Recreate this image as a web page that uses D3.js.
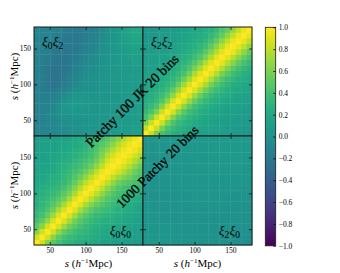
<!DOCTYPE html>
<html>
<head>
<meta charset="utf-8">
<script src="https://cdn.jsdelivr.net/npm/d3@7"></script>
<style>
  body { margin: 0; background: #fff; }
  text { font-family: "Liberation Serif", "DejaVu Serif", serif; fill: #000; }
</style>
</head>
<body>
<svg id="chart" width="340" height="273"></svg>
<script>
(function(d3) {

  // s bin edges (h^-1 Mpc), 20 bins per multipole
  var sEdges = [28, 35.6, 43.2, 50.8, 58.4, 66, 73.6, 81.2, 88.8, 96.4, 104,
                111.6, 119.2, 126.8, 134.4, 142, 149.6, 157.2, 164.8, 172.4, 180];
  var sTicks = [50, 100, 150];
  var cbTicks = [1.0, 0.8, 0.6, 0.4, 0.2, 0.0, -0.2, -0.4, -0.6, -0.8, -1.0];

  // Correlation coefficients in percent.
  // Row r = y bin (smallest s first), column c = x bin.
  var xi0xi0 = [
    [100,85,63,49,40,34,30,27,25,23,21,19,17,15,14,13,12,11,10,9],
    [85,100,86,64,50,41,35,32,29,27,24,21,19,17,15,14,13,12,12,11],
    [63,86,100,87,66,52,44,38,34,30,27,24,21,19,17,15,15,14,13,12],
    [49,64,87,100,88,70,56,47,40,34,30,27,24,21,19,18,17,15,14,13],
    [40,50,66,88,100,89,72,57,47,40,34,30,27,25,24,21,19,17,15,14],
    [34,41,52,70,89,100,89,72,57,47,40,34,32,30,27,24,21,19,17,15],
    [30,35,44,56,72,89,100,90,73,59,49,42,38,35,31,27,24,21,19,17],
    [27,32,38,47,57,72,90,100,90,74,61,53,46,40,35,31,27,24,21,19],
    [25,29,34,40,47,57,73,90,100,91,78,65,55,46,40,35,31,27,24,22],
    [23,27,30,34,40,47,59,74,91,100,92,80,66,55,46,40,35,31,28,26],
    [21,24,27,30,34,40,49,61,78,92,100,92,80,66,55,46,40,37,34,31],
    [19,21,24,27,30,34,42,53,65,80,92,100,92,80,67,56,49,45,41,36],
    [17,19,21,24,27,32,38,46,55,66,80,92,100,93,82,70,62,55,47,41],
    [15,17,19,21,25,30,35,40,46,55,66,80,93,100,94,86,76,65,55,47],
    [14,15,17,19,24,27,31,35,40,46,55,67,82,94,100,95,87,76,65,55],
    [13,14,15,18,21,24,27,31,35,40,46,56,70,86,95,100,95,87,76,65],
    [12,13,15,17,19,21,24,27,31,35,40,49,62,76,87,95,100,95,87,76],
    [11,12,14,15,17,19,21,24,27,31,37,45,55,65,76,87,95,100,95,87],
    [10,12,13,14,15,17,19,21,24,28,34,41,47,55,65,76,87,95,100,95],
    [9,11,12,13,14,15,17,19,22,26,31,36,41,47,55,65,76,87,95,100]
  ];

  var xi2xi2 = [
    [100,82,58,42,33,27,23,20,17,15,14,13,12,11,10,9,8,7,6,6],
    [82,100,83,59,43,34,28,24,21,18,16,14,13,12,11,10,9,8,7,6],
    [58,83,100,84,60,44,35,29,25,21,18,16,14,13,12,11,10,9,8,7],
    [42,59,84,100,85,62,46,37,30,26,22,19,17,15,13,12,11,10,9,8],
    [33,43,60,85,100,86,64,48,38,31,26,22,19,17,15,13,12,11,10,9],
    [27,34,44,62,86,100,87,66,50,39,32,27,23,20,17,15,14,12,11,10],
    [23,28,35,46,64,87,100,88,68,52,40,33,28,24,21,18,16,14,13,12],
    [20,24,29,37,48,66,88,100,88,70,54,42,35,29,25,22,19,17,15,14],
    [17,21,25,30,38,50,68,88,100,89,72,56,44,36,30,26,22,20,18,16],
    [15,18,21,26,31,39,52,70,89,100,90,74,58,46,37,31,26,23,20,18],
    [14,16,18,22,26,32,40,54,72,90,100,90,74,58,46,37,31,26,23,20],
    [13,14,16,19,22,27,33,42,56,74,90,100,91,76,60,48,39,32,27,24],
    [12,13,14,17,19,23,28,35,44,58,74,91,100,91,77,62,50,40,33,28],
    [11,12,13,15,17,20,24,29,36,46,58,76,91,100,92,78,64,51,41,34],
    [10,11,12,13,15,17,21,25,30,37,46,60,77,92,100,92,79,65,53,43],
    [9,10,11,12,13,15,18,22,26,31,37,48,62,78,92,100,93,80,66,53],
    [8,9,10,11,12,14,16,19,22,26,31,39,50,64,79,93,100,93,81,66],
    [7,8,9,10,11,12,14,17,20,23,26,32,40,51,65,80,93,100,93,81],
    [6,7,8,9,10,11,13,15,18,20,23,27,33,41,53,66,81,93,100,93],
    [6,6,7,8,9,10,12,14,16,18,20,24,28,34,43,53,66,81,93,100]
  ];

  var xi0xi2 = [
    [-10,-10,-9,-8,-6,-4,-2,0,1,3,4,5,6,7,8,9,10,10,11,12],
    [-10,-11,-10,-8,-6,-3,-1,0,2,3,4,5,6,7,8,9,9,10,11,11],
    [-11,-11,-10,-8,-5,-2,0,1,2,3,4,5,6,7,8,8,9,10,10,11],
    [-11,-11,-10,-7,-3,0,2,3,3,4,5,5,6,7,7,8,9,9,10,11],
    [-11,-12,-10,-6,-1,3,6,7,6,5,5,5,6,6,7,8,8,9,10,11],
    [-12,-12,-11,-7,-1,5,8,9,8,6,5,5,5,6,7,7,8,9,10,11],
    [-12,-13,-13,-10,-5,2,6,8,8,6,4,4,5,6,6,7,8,9,10,11],
    [-12,-14,-15,-14,-10,-4,1,4,5,4,3,4,5,5,6,7,8,9,10,10],
    [-12,-15,-18,-19,-16,-11,-6,-2,0,1,2,3,4,5,6,7,8,9,9,10],
    [-12,-16,-20,-22,-20,-16,-11,-6,-3,0,1,3,4,5,6,7,8,9,9,10],
    [-12,-16,-21,-24,-23,-19,-14,-9,-5,-2,0,2,4,5,6,7,8,9,9,10],
    [-12,-16,-21,-24,-24,-21,-16,-11,-7,-3,-1,1,3,5,6,7,8,9,10,10],
    [-12,-15,-20,-23,-24,-22,-18,-13,-9,-5,-2,0,3,5,6,8,9,10,10,10],
    [-11,-14,-18,-21,-23,-22,-19,-15,-11,-7,-4,-1,2,4,6,8,9,10,11,11],
    [-11,-13,-17,-20,-22,-22,-20,-17,-13,-9,-6,-2,1,4,6,8,10,11,12,12],
    [-10,-12,-15,-18,-20,-21,-20,-18,-15,-11,-8,-4,0,3,6,9,10,12,13,13],
    [-10,-11,-13,-16,-18,-20,-20,-19,-17,-13,-10,-6,-2,2,6,9,11,13,15,15],
    [-9,-10,-12,-14,-17,-19,-20,-20,-18,-15,-12,-8,-3,1,5,9,12,15,17,17],
    [-8,-9,-10,-12,-15,-17,-18,-19,-18,-16,-14,-10,-5,0,4,8,13,17,19,19],
    [-8,-8,-10,-12,-14,-16,-17,-18,-18,-17,-15,-12,-6,0,4,8,14,18,20,20]
  ];

  var xi2xi0 = [
    [7,6,6,5,5,4,4,3,3,2,2,1,1,0,0,0,-1,-1,-1,-2],
    [6,6,5,5,4,4,3,3,3,2,2,1,1,1,0,0,0,-1,-1,-1],
    [6,5,5,4,4,4,3,3,3,2,2,2,1,1,1,1,0,0,0,-1],
    [5,5,4,4,4,3,3,3,3,2,2,2,2,1,1,1,1,0,0,0],
    [5,4,4,4,3,3,3,3,3,3,2,2,2,2,2,1,1,1,0,0],
    [4,4,4,3,3,3,3,3,3,3,3,3,2,2,2,2,1,1,1,1],
    [4,4,3,3,3,3,3,3,3,3,3,3,3,3,2,2,2,2,1,1],
    [4,3,3,3,3,3,3,3,3,3,3,3,3,3,3,3,2,2,2,2],
    [3,3,3,3,3,3,3,3,3,3,4,4,4,4,3,3,3,3,2,2],
    [3,3,3,3,3,3,3,3,4,4,4,4,4,4,4,4,3,3,3,3],
    [3,3,3,3,3,3,3,4,4,4,4,4,4,4,4,4,4,4,3,3],
    [3,3,3,3,3,3,4,4,4,4,4,5,5,5,5,5,5,4,4,4],
    [3,3,3,3,3,4,4,4,4,5,5,5,5,5,5,5,5,5,5,4],
    [3,3,3,3,4,4,4,4,5,5,5,5,6,6,6,6,6,6,5,5],
    [3,3,3,3,4,4,4,5,5,5,6,6,6,6,7,7,7,6,6,6],
    [3,3,3,4,4,4,5,5,5,6,6,6,7,7,7,7,7,7,7,6],
    [3,3,3,4,4,5,5,5,6,6,6,7,7,7,8,8,8,8,7,7],
    [3,3,4,4,4,5,5,5,6,6,6,7,7,8,8,8,8,8,8,7],
    [3,3,4,4,5,5,5,6,6,6,7,7,7,8,8,8,8,8,8,8],
    [3,3,4,4,5,5,5,6,6,6,7,7,7,7,8,8,8,8,8,8]
  ];

  // panel layout: col/row in the 2x2 grid, label = [multipole x, multipole y]
  var panels = [
    { block: xi0xi2, col: 0, row: 0, label: ["0", "2"], corner: "tl" },
    { block: xi2xi2, col: 1, row: 0, label: ["2", "2"], corner: "tl" },
    { block: xi0xi0, col: 0, row: 1, label: ["0", "0"], corner: "br" },
    { block: xi2xi0, col: 1, row: 1, label: ["2", "0"], corner: "br" }
  ];

  var left = 34, top = 27, size = 109;

  var svg = d3.select("#chart");

  var color = d3.scaleSequential(d3.interpolateViridis).domain([-1, 1]);

  var x = d3.scaleLinear().domain([sEdges[0], sEdges[sEdges.length - 1]]).range([0, size]);
  var y = d3.scaleLinear().domain([sEdges[0], sEdges[sEdges.length - 1]]).range([size, 0]);

  function sLabel(sel) {
    sel.append("tspan").attr("font-style", "italic").text("s");
    sel.append("tspan").text(" (");
    sel.append("tspan").attr("font-style", "italic").text("h");
    sel.append("tspan").attr("font-size", "7px").attr("dy", -3.5).text("\u22121");
    sel.append("tspan").attr("dy", 3.5).text("Mpc)");
  }

  //** Panels **//

  panels.forEach(function(p) {
    var g = svg.append("g")
      .attr("transform", "translate(" + (left + p.col * size) + "," + (top + p.row * size) + ")");

    var cells = [];
    p.block.forEach(function(rowVals, r) {
      rowVals.forEach(function(v, c) { cells.push({ r: r, c: c, v: v / 100 }); });
    });

    g.selectAll("rect.cell")
      .data(cells)
      .enter().append("rect")
      .attr("class", "cell")
      .attr("x", function(d) { return x(sEdges[d.c]); })
      .attr("y", function(d) { return y(sEdges[d.r + 1]); })
      .attr("width", function(d) { return x(sEdges[d.c + 1]) - x(sEdges[d.c]) + 0.4; })
      .attr("height", function(d) { return y(sEdges[d.r]) - y(sEdges[d.r + 1]) + 0.4; })
      .attr("fill", function(d) { return color(d.v); })
      ;

    // Inward ticks on all four sides
    var bottom = d3.axisBottom(x).tickValues(sTicks).tickSize(-3).tickPadding(3)
      .tickFormat(p.row === 1 ? d3.format("d") : "");
    var leftAx = d3.axisLeft(y).tickValues(sTicks).tickSize(-3).tickPadding(3)
      .tickFormat(p.col === 0 ? d3.format("d") : "");
    var topAx = d3.axisTop(x).tickValues(sTicks).tickSize(-3).tickFormat("");
    var rightAx = d3.axisRight(y).tickValues(sTicks).tickSize(-3).tickFormat("");

    [[bottom, 0, size], [leftAx, 0, 0], [topAx, 0, 0], [rightAx, size, 0]].forEach(function(a) {
      var ax = g.append("g")
        .attr("transform", "translate(" + a[1] + "," + a[2] + ")")
        .call(a[0]);
      ax.select(".domain").remove();
      ax.selectAll("line").attr("stroke", "#111").attr("stroke-width", 0.8);
      ax.selectAll("text").attr("font-size", "7.5px").attr("font-family", "Liberation Serif").attr("fill", "#222");
    });

    g.append("rect")
      .attr("width", size).attr("height", size)
      .attr("fill", "none").attr("stroke", "#1a1a1a").attr("stroke-width", 1);

    // Panel label  xi_a xi_b
    var t = g.append("text").attr("font-size", "13.5px");
    if (p.corner === "tl") {
      t.attr("x", 8).attr("y", 19);
    } else {
      t.attr("x", size - 12).attr("y", size - 10).attr("text-anchor", "end");
    }
    p.label.forEach(function(k) {
      t.append("tspan").attr("font-style", "italic").attr("dy", 0).text("\u03be");
      t.append("tspan").attr("font-size", "9.5px").attr("dy", 2.5).text(k);
      t.append("tspan").attr("font-size", "1px").attr("dy", -2.5).text(" ");
    });
  });

  //** Diagonal annotations **//

  function diagText(txt, cx, cy, len) {
    var t = svg.append("text")
      .attr("text-anchor", "middle")
      .attr("font-size", "12px")
      .attr("stroke", "#000").attr("stroke-width", 0.3)
      .attr("transform", "translate(" + cx + "," + cy + ") rotate(-45)")
      .text(txt);
    var w = t.node().getComputedTextLength();
    if (w > 0) t.attr("font-size", (12 * len / w).toFixed(2) + "px");
  }
  diagText("Patchy 100 JK 20 bins", 135.5, 104, 125);
  diagText("1000 Patchy 20 bins", 160.5, 170, 110);

  //** Axis labels **//

  [0, 1].forEach(function(i) {
    svg.append("text")
      .attr("x", left + i * size + size / 2)
      .attr("y", 266.5)
      .attr("text-anchor", "middle")
      .attr("font-size", "11px")
      .call(sLabel);
    svg.append("text")
      .attr("transform", "translate(17.5," + (top + i * size + size / 2 - 5) + ") rotate(-90)")
      .attr("text-anchor", "middle")
      .attr("font-size", "11px")
      .call(sLabel);
  });

  //** Colorbar **//

  var cbX = 265.3, cbW = 10.4, cbTop = 27.3, cbH = 218.5;
  var cbScale = d3.scaleLinear().domain([-1, 1]).range([cbTop + cbH, cbTop]);

  var grad = svg.append("defs").append("linearGradient")
    .attr("id", "viridis").attr("x1", 0).attr("y1", 1).attr("x2", 0).attr("y2", 0);
  d3.range(0, 1.0001, 0.05).forEach(function(t) {
    grad.append("stop").attr("offset", t).attr("stop-color", d3.interpolateViridis(t));
  });

  svg.append("rect")
    .attr("x", cbX).attr("y", cbTop).attr("width", cbW).attr("height", cbH)
    .attr("fill", "url(#viridis)")
    .attr("stroke", "#1a1a1a").attr("stroke-width", 0.8);

  var cbAxis = svg.append("g")
    .attr("transform", "translate(" + (cbX + cbW) + ",0)")
    .call(d3.axisRight(cbScale).tickValues(cbTicks).tickSize(-2.5).tickPadding(3)
      .tickFormat(d3.format(".1f")));
  cbAxis.select(".domain").remove();
  cbAxis.selectAll("line").attr("stroke", "#111").attr("stroke-width", 0.8);
  cbAxis.selectAll("text").attr("font-size", "7.5px").attr("font-family", "Liberation Serif").attr("fill", "#222");

})(d3);
</script>
</body>
</html>
